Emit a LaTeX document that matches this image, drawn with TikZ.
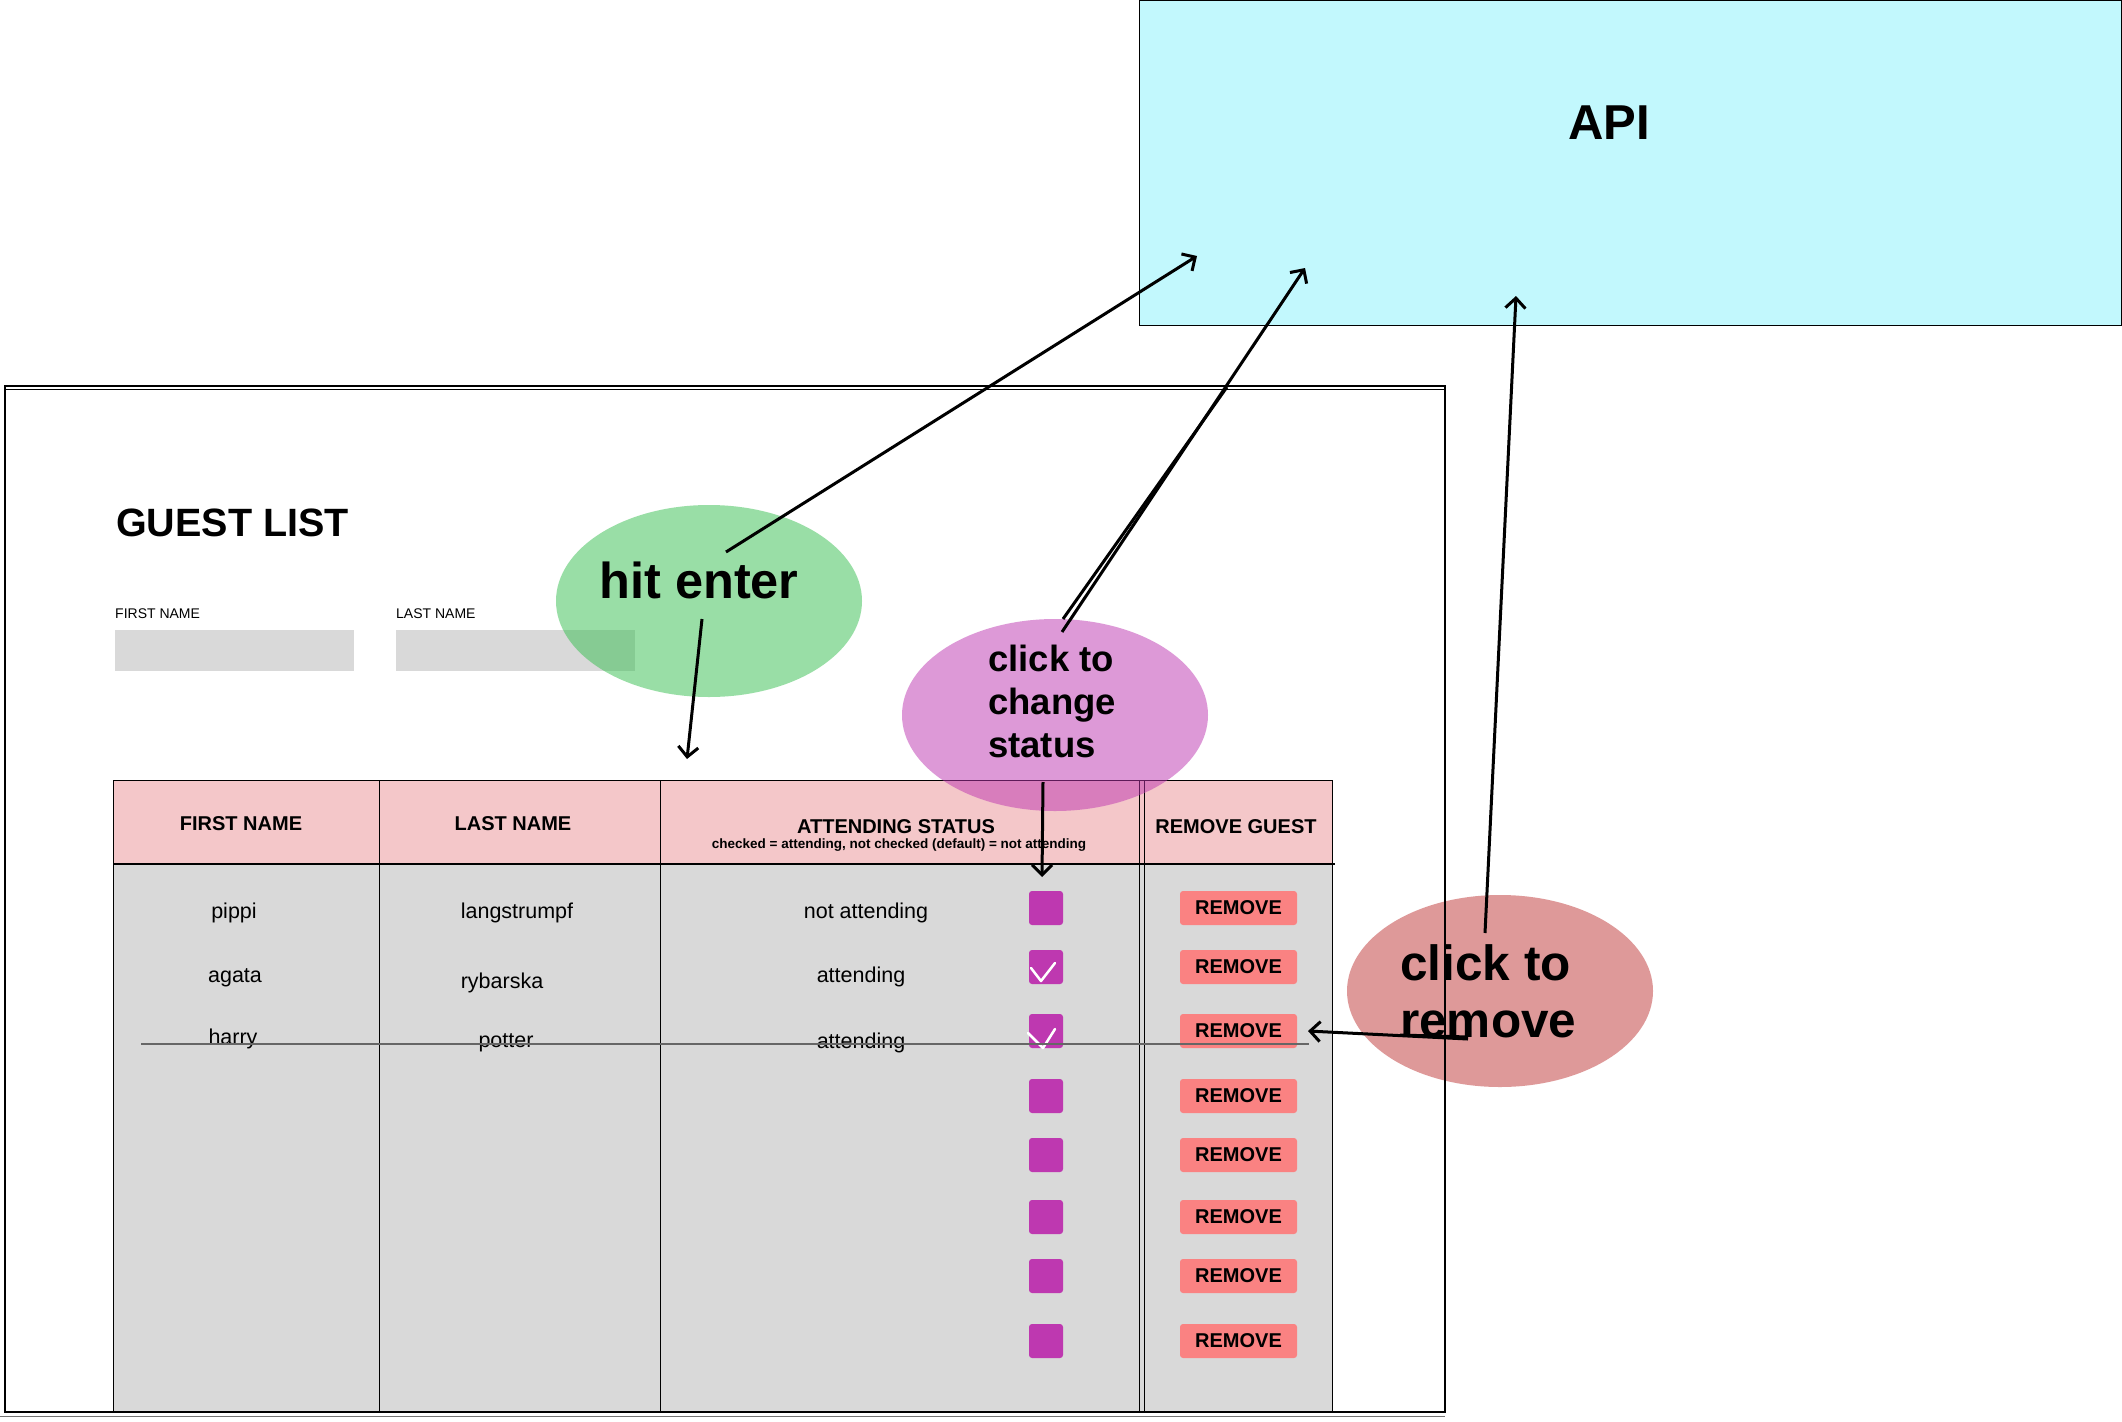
\documentclass[tikz,border=0pt]{standalone}
\usepackage{fontspec}
\setmainfont{Liberation Sans}
\usetikzlibrary{shapes.geometric,arrows.meta}
\definecolor{apiblue}{HTML}{C2F8FD}
\definecolor{hdrpink}{HTML}{F4C7C9}
\definecolor{bodygray}{HTML}{D9D9D9}
\definecolor{chk}{HTML}{BE38B0}
\definecolor{btn}{HTML}{FA8282}
\definecolor{egreen}{RGB}{53,191,79}
\definecolor{epurple}{RGB}{189,53,177}
\definecolor{ered}{RGB}{191,53,53}
\newcommand\fsz[1]{\fontsize{#1}{#1}\selectfont}
\begin{document}
\begin{tikzpicture}[x=1pt,y=-1pt,
  arr/.style={line width=3pt,-{Straight Barb[length=10pt,width=20pt]}},
  plainln/.style={line width=3pt},
  blob/.style={ellipse,minimum width=306pt,minimum height=192pt,inner sep=0pt,fill opacity=0.5,draw=none},
  chkbox/.style={rectangle,fill=chk,rounded corners=3pt,minimum width=34pt,minimum height=34pt,inner sep=0pt},
  btnbox/.style={rectangle,fill=btn,rounded corners=3pt,minimum width=117pt,minimum height=34pt,inner sep=0pt,font=\bfseries\fsz{20}},
  hdr/.style={anchor=base,inner sep=0pt,font=\bfseries\fsz{20}},
  cell/.style={anchor=base,inner sep=0pt,font=\fsz{21.5}},
  lbl/.style={anchor=base west,inner sep=0pt,font=\fsz{14}},
  inbox/.style={rectangle,fill=bodygray,anchor=north west,minimum width=239pt,minimum height=41pt,inner sep=0pt},
  bigtxt/.style={anchor=base west,inner sep=0pt,font=\bfseries},
  tline/.style={line width=1pt}]
\useasboundingbox (0,0) rectangle (2122,1421);
\fill[white] (0,0) rectangle (2122,1421);

% API box
\node[rectangle,draw=black,line width=1pt,fill=apiblue,anchor=north west,minimum width=982pt,minimum height=325pt,inner sep=0pt] (api) at (1139,0) {};
\node[anchor=base,inner sep=0pt,font=\bfseries\fsz{49}] (apitxt) at (1609,139) {API};

% title and inputs
\node[bigtxt,font=\bfseries\fsz{39.5}] (title) at (116,536) {GUEST LIST};
\node[lbl] (lfirst) at (115,618) {FIRST NAME};
\node[lbl] (llast) at (396,618) {LAST NAME};
\node[inbox] (in1) at (115,630) {};
\node[inbox] (in2) at (396,630) {};

% table
\fill[hdrpink] (113.5,780) rectangle (1332,864);
\fill[bodygray] (113.5,864) rectangle (1332,1411);
\draw[tline] (113.5,780) rectangle (1332,1411);
\foreach \xx in {379,660,1139.5,1144.5} \draw[tline] (\xx,780) -- (\xx,1411);
\draw[line width=2.5pt] (113.5,864) -- (1335,864);

\node[hdr] (h1) at (241,830) {FIRST NAME};
\node[hdr] (h2) at (513,830) {LAST NAME};
\node[hdr] (h3) at (896,833) {ATTENDING STATUS};
\node[hdr,font=\bfseries\fsz{13.5}] (h3s) at (899,848) {checked = attending, not checked (default) = not attending};
\node[hdr] (h4) at (1236,833) {REMOVE GUEST};

\node[cell] (r1a) at (234,918) {pippi};
\node[cell] (r1b) at (517,918) {langstrumpf};
\node[cell] (r1c) at (866,918) {not attending};
\node[cell] (r2a) at (235,982) {agata};
\node[cell] (r2b) at (502,988) {rybarska};
\node[cell] (r2c) at (861,982) {attending};
\node[cell] (r3a) at (233,1044) {harry};
\node[cell] (r3b) at (506,1047) {potter};
\node[cell] (r3c) at (861,1048) {attending};

\foreach \yy [count=\i] in {908,967,1031,1096,1155,1217,1276,1341} {
  \node[chkbox] (c\i) at (1046,\yy) {};
  \node[btnbox] (b\i) at (1238.5,\yy) {REMOVE};
}
\draw[white,line width=2.5pt,line cap=round,line join=round] (1031,968) -- (1041,981) -- (1055,963);
\draw[white,line width=2.5pt,line cap=round,line join=round] (1028,1033) -- (1043,1048) -- (1055,1029);

% strike line
\draw[line width=2pt,black!60] (141,1044) -- (1309,1044);

% ellipses
\node[blob,fill=egreen] (hit) at (709,601) {};
\node[blob,fill=epurple] (stat) at (1055,715) {};
\node[blob,fill=ered] (rem) at (1500,991) {};

\node[anchor=base,inner sep=0pt,font=\bfseries\fsz{50.5}] (hittxt) at (699,598) {hit enter};
\node[bigtxt,font=\bfseries\fsz{36.5}] (st1) at (988,671) {click to};
\node[bigtxt,font=\bfseries\fsz{36.5}] (st2) at (988,714) {change};
\node[bigtxt,font=\bfseries\fsz{36.5}] (st3) at (988,757) {status};
\node[bigtxt,font=\bfseries\fsz{49.5}] (rm1) at (1400,980) {click to};
\node[bigtxt,font=\bfseries\fsz{49.5}] (rm2) at (1400,1037) {remove};

% outer frame
\draw[line width=1.5pt] (5,386) rectangle (1445,1412);
\draw[line width=1pt] (5,389) -- (1445,389);
\draw[line width=1pt,black!55] (0,1416) -- (1445,1416);

% connector end points
\coordinate (hitA) at (726,552);
\coordinate (hitB) at (702,619);
\coordinate (hitT) at (687,759);
\coordinate (apiA) at (1197,256);
\coordinate (apiB) at (1305,268);
\coordinate (apiC) at (1516,296);
\coordinate (statA) at (1062,632);
\coordinate (statA2) at (1063,619);
\coordinate (statM) at (1227,387);
\coordinate (statB) at (1043,782);
\coordinate (chkT) at (1042,877);
\coordinate (remA) at (1485,933);
\coordinate (remB) at (1468,1039);
\coordinate (remB2) at (1468,1037);
\coordinate (remB3) at (1400,1035);
\coordinate (btnT) at (1308,1031);

\draw[arr] (hitA) -- (apiA);
\draw[arr] (hitB) -- (hitT);
\draw[arr] (statA) -- (apiB);
\draw[plainln] (statA2) -- (statM);
\draw[arr] (statB) -- (chkT);
\draw[arr] (remA) -- (apiC);
\draw[arr] (remB) -- (btnT);
\draw[plainln] (remB3) -- (remB2);
\end{tikzpicture}
\end{document}
